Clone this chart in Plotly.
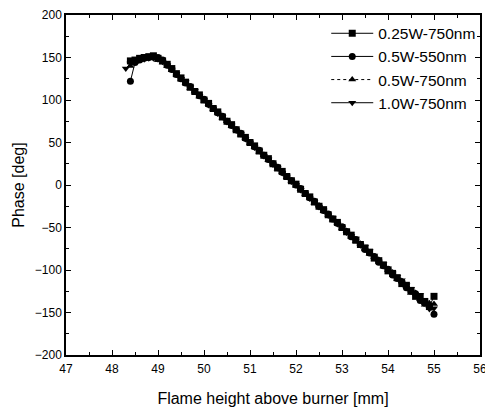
import plotly.graph_objects as go

# flame height above burner [mm], shared by all runs
height_mm = [48.3, 48.4, 48.5, 48.6, 48.7, 48.8, 48.9, 49.0, 49.1, 49.2,
             49.3, 49.4, 49.5, 49.6, 49.7, 49.8, 49.9, 50.0, 50.1, 50.2,
             50.3, 50.4, 50.5, 50.6, 50.7, 50.8, 50.9, 51.0, 51.1, 51.2,
             51.3, 51.4, 51.5, 51.6, 51.7, 51.8, 51.9, 52.0, 52.1, 52.2,
             52.3, 52.4, 52.5, 52.6, 52.7, 52.8, 52.9, 53.0, 53.1, 53.2,
             53.3, 53.4, 53.5, 53.6, 53.7, 53.8, 53.9, 54.0, 54.1, 54.2,
             54.3, 54.4, 54.5, 54.6, 54.7, 54.8, 54.9, 55.0]

# phase [deg]
phase_025w_750 = [None, 146, 147, 149, 150, 151, 152, 149, 146, 142,
                  137, 131, 126, 121, 115, 110, 106, 100, 96, 90,
                  86, 80, 75, 71, 65, 60, 56, 50, 46, 40,
                  35, 31, 25, 20, 16, 10, 5, 1, -5, -10,
                  -14, -20, -25, -29, -35, -40, -44, -50, -55, -59,
                  -65, -70, -74, -79, -86, -89, -94, -101, -104, -109,
                  -116, -118, -124, -131, -132, -137, -143, -131]

phase_05w_550 = [None, 122, 144, 147, 149, 150, 151, 150, 147, 141,
                 136, 130, 125, 120, 116, 110, 105, 101, 95, 90,
                 85, 81, 75, 70, 65, 61, 55, 50, 45, 41,
                 35, 30, 25, 21, 15, 10, 5, 0, -4, -10,
                 -15, -19, -25, -30, -34, -40, -45, -49, -55, -61,
                 -64, -70, -76, -80, -84, -91, -95, -99, -106, -110,
                 -114, -121, -125, -128, -136, -139, -142, -152]

phase_05w_750 = [None, 140, 145, 147, 149, 149, 150, 147, 144, 140,
                 135, 130, 124, 120, 114, 110, 104, 99, 95, 89,
                 85, 79, 75, 69, 65, 59, 55, 49, 45, 39,
                 35, 29, 25, 19, 15, 9, 5, -1, -5, -11,
                 -15, -21, -24, -31, -35, -41, -45, -51, -54, -61,
                 -66, -69, -75, -81, -85, -88, -96, -100, -103, -111,
                 -113, -119, -127, -127, -134, -141, -139, -140]

phase_10w_750 = [137, 143, 146, 148, 148, 149, 149, 148, 145, 141,
                 136, 131, 125, 121, 115, 111, 105, 100, 94, 90,
                 84, 80, 74, 70, 64, 60, 54, 50, 44, 40,
                 34, 30, 24, 20, 14, 10, 4, 0, -6, -10,
                 -16, -20, -26, -30, -36, -39, -46, -50, -56, -60,
                 -63, -71, -73, -78, -83, -90, -93, -98, -104, -108,
                 -112, -118, -122, -130, -129, -138, -146, -145]

series = [
    ("0.25W-750nm", phase_025w_750, "square", "solid"),
    ("0.5W-550nm", phase_05w_550, "circle", "solid"),
    ("0.5W-750nm", phase_05w_750, "triangle-up", "dot"),
    ("1.0W-750nm", phase_10w_750, "triangle-down", "solid"),
]

fig = go.Figure()
for name, phase, symbol, dash in series:
    fig.add_trace(go.Scatter(
        x=height_mm, y=phase, name=name, mode="lines+markers",
        line=dict(color="black", width=1, dash=dash),
        marker=dict(symbol=symbol, size=7, color="black"),
    ))

axis_style = dict(
    showline=True, linecolor="black", linewidth=1.5, mirror="allticks",
    ticks="inside", ticklen=5, tickcolor="black", showgrid=False,
    zeroline=False, automargin=False, ticklabeloverflow="allow",
    tickfont=dict(size=12, color="black"),
)

fig.update_xaxes(
    range=[47, 56], dtick=1, ticklabelstandoff=2,
    minor=dict(dtick=0.5, ticks="inside", ticklen=3, tickcolor="black"),
    title=dict(text="Flame height above burner [mm]", font=dict(size=16), standoff=18),
    **axis_style,
)
fig.update_yaxes(
    range=[-200, 200], dtick=50,
    minor=dict(dtick=25, ticks="inside", ticklen=3, tickcolor="black"),
    title=dict(text="Phase [deg]", font=dict(size=16), standoff=6),
    **axis_style,
)

# page body has an 8px margin, so the figure is sized to fit inside the window
fig.update_layout(
    width=485, height=401,
    margin=dict(l=58, r=13, t=7, b=54),
    paper_bgcolor="white", plot_bgcolor="white",
    font=dict(family="Liberation Sans, Arial, sans-serif", color="black"),
    legend=dict(x=1.003, y=0.995, xanchor="right", yanchor="top",
                font=dict(size=15.5), itemwidth=42,
                bgcolor="rgba(0,0,0,0)", tracegroupgap=0),
)

fig.write_html("out.html")
